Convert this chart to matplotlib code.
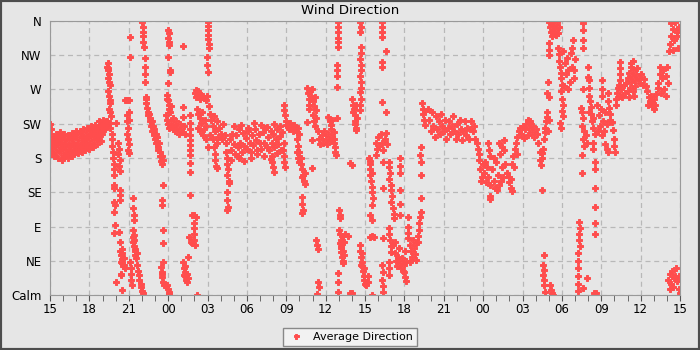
import matplotlib
matplotlib.use("Agg")
import matplotlib.pyplot as plt
from matplotlib.patches import Rectangle

# hours since 15:00 on day one, wind direction in degrees (0 = calm, 360 = N)
hours_a = [0.0,0.0,0.0,0.0,0.08,0.08,0.15,0.15,0.25,0.25,
           0.35,0.35,0.45,0.45,0.55,0.55,0.65,0.65,0.75,0.75,
           0.85,0.85,0.95,0.95,1.05,1.05,1.15,1.15,1.25,1.25,
           1.35,1.35,1.45,1.45,1.55,1.55,1.65,1.65,1.75,1.75,
           1.85,1.85,1.95,1.95,2.05,2.05,2.15,2.15,2.25,2.25,
           2.35,2.35,2.45,2.45,2.55,2.55,2.65,2.65,2.75,2.75,
           2.85,2.85,2.95,2.95,3.05,3.05,3.15,3.15,3.25,3.25,
           3.35,3.35,3.45,3.45,3.55,3.55,3.65,3.65,3.75,3.75,
           3.85,3.85,3.95,3.95,4.05,4.05,4.15,4.15,4.25,4.25,
           4.35,4.35,
           0.3,0.6,0.9,1.2,1.5,1.8,2.1,2.4,2.7,3.0,
           3.3,3.6,3.9,0.45,0.75,1.05,1.35,1.65,1.95,2.25,
           2.55,2.85,3.15,3.45,3.75,4.05,
           4.35,4.4,4.45,4.5,4.4,4.5,4.55,4.45,4.45,4.5,
           4.55,4.6,4.5,4.6,4.65,4.55,4.6,4.7,4.75,4.75,
           4.8,4.8,4.85,4.9,4.9,5.05,4.85,4.9,4.9,4.95,
           4.9,4.95,4.9,5.0,5.2,5.25,5.2,5.3,5.25,5.3,
           5.3,5.35,5.3,5.25,5.35,5.35,5.4,5.45,5.5,5.55,
           5.4,5.5,5.6,5.65,5.7,5.45,5.4,5.4,5.45,5.75,
           5.9,6.0,5.85,5.9,5.95,5.9,5.95,6.0,5.95,6.0,
           6.05,6.05,6.1,6.1,6.3,6.35,6.4,6.4,6.35,6.4,
           6.3,6.35,6.4,6.45,6.5,6.55,6.4,6.5,6.6,6.1,
           6.15,6.2,6.2,6.25,6.65,6.7,6.75,6.8,6.9,6.95,
           7.0,7.05,7.0,7.05,7.05,7.1,7.1,7.15,7.2,7.2,
           7.25,7.25,7.3,7.35,7.4,7.45,7.5,7.35,
           7.55,7.6,7.65,7.7,7.75,7.8,7.85,7.9,7.95,8.0,
           8.05,8.1,8.15,8.2,8.25,8.3,8.35,8.4,8.45,8.5,
           8.55,8.6,8.6,8.5,8.55,8.6,8.6,8.6,8.45,8.5,
           8.55,8.6,8.65,8.55,8.95,9.0,9.05,9.1,9.0,9.05,
           9.0,9.1,9.1,9.0,9.15,9.15,9.0,8.95,9.0,9.05,
           9.1,9.15,8.9,9.2,8.8,8.9,9.0,9.1,9.2,9.3,
           9.4,9.5,9.4,9.5,9.6,9.7,9.8,9.9,10.0,10.1,
           10.2,10.25,10.15,10.15,10.15,10.65,10.7,10.65,10.7,10.65,
           10.7,10.65,10.7,10.65,10.7,10.65,10.85,11.0,11.1,10.95,
           11.0,10.95,11.0,11.05,10.6,10.75,10.85,10.5,10.15,10.2,
           10.25,10.3,10.35,10.4,10.3,10.45,10.5,10.2,11.2,
           11.05,11.15,11.25,11.35,11.45,11.55,11.65,11.75,11.85,11.95,
           11.1,11.4,11.2,11.3,11.4,11.5,11.6,11.7,11.8,11.9,
           11.25,11.45,11.65,11.85]
dirs_a = [225,200,190,212,218,195,205,185,200,192,
          208,196,202,188,198,207,190,203,209,195,
          200,186,204,193,197,183,206,190,186,200,
          180,195,203,190,196,208,182,199,205,192,
          210,198,195,188,207,198,200,192,212,195,
          203,196,192,208,214,200,205,195,198,210,
          208,194,215,203,200,210,196,212,208,218,
          203,213,210,218,215,205,220,209,212,222,
          216,224,220,212,225,216,219,226,224,228,
          228,221,
          182,180,178,184,185,186,187,188,190,192,
          195,198,202,212,214,211,210,213,215,216,
          218,219,222,224,228,230,
          300,305,296,290,285,280,276,298,268,262,
          256,252,245,240,235,226,220,212,205,196,
          188,180,172,165,158,226,145,140,122,118,
          109,92,81,17,200,192,185,178,170,163,
          138,131,125,83,70,58,52,47,42,38,
          44,55,48,40,36,60,28,26,7,256,
          256,256,236,228,220,212,205,198,190,187,
          230,240,339,313,127,114,105,99,85,79,
          76,70,64,58,52,48,72,60,55,43,
          36,28,20,13,39,32,26,20,15,10,
          5,3,359,352,346,340,333,326,311,300,
          290,280,260,252,246,240,236,258,
          238,228,233,222,228,215,222,210,218,205,
          212,200,207,195,190,200,182,188,176,183,
          172,178,145,125,118,85,68,43,37,30,
          24,17,13,28,13,8,4,1,348,344,
          338,333,329,313,296,293,278,263,256,250,
          244,240,258,248,236,230,225,220,228,222,
          218,225,232,215,228,220,212,225,218,214,
          222,212,327,247,234,236,226,218,210,204,
          197,190,184,173,162,131,105,105,102,95,
          88,80,72,66,76,70,68,50,43,36,
          30,25,20,17,38,28,22,26,0,
          266,269,268,265,262,260,262,259,256,262,
          260,258,245,238,232,226,240,218,230,222,
          220,215,210,205]

hours_b = [12.0,12.0,12.05,12.0,12.05,12.0,12.1,12.1,11.95,11.95,
           12.05,12.1,12.2,12.3,12.4,12.5,12.6,12.7,12.8,12.9,
           13.0,13.1,13.2,13.3,13.4,12.2,12.45,12.75,12.5,12.55,
           12.6,12.65,12.7,13.4,13.45,13.5,13.55,13.5,13.6,13.6,
           13.5,13.5,13.55,13.5,13.7,13.8,13.9,14.0,14.1,14.2,
           14.3,14.4,14.5,14.6,14.7,14.8,14.9,15.0,15.1,15.2,
           15.3,15.4,15.5,15.6,15.7,15.8,15.9,16.0,14.4,16.1,
           16.2,16.3,16.4,16.5,16.6,16.7,16.8,16.9,17.0,17.1,
           17.2,17.3,17.4,17.5,17.6,17.7,17.8,16.9,16.95,17.0,
           13.8,14.3,14.8,15.3,15.8,16.3,16.8,17.3,
           14.05,14.55,15.05,15.55,16.05,16.55,17.05,17.55,
           17.05,17.8,17.85,17.9,17.95,18.0,17.75,17.8,17.85,17.9,
           18.1,18.2,18.3,18.4,18.5,18.6,18.7,18.8,18.9,19.0,
           18.85,18.9,18.85,18.9,18.95,19.0,19.1,19.15,19.2,19.3,
           19.35,19.4,19.2,19.45,19.2,19.2,19.25,19.2,19.6,19.65,
           19.7,19.75,19.8,19.9,20.0,20.1,20.2,20.25,19.7,19.95,
           19.6,20.0,20.1,20.2,20.3,19.95,19.95,20.4,20.5,20.6,
           20.7,20.8,20.9,21.0,21.1,21.2,21.3,21.4,21.5,21.6,
           21.2,21.3,21.4,21.5,21.6,21.65,21.7,21.75,21.8,20.3,
           20.35,20.4,20.45,20.5,20.35,21.95,21.95,21.95,21.95,21.95,
           21.95,21.85,21.9,21.85,21.9,21.9,22.0,22.1,22.1,22.0,
           22.1,22.3,22.5,22.7,22.2,22.4,22.1,22.15,22.2,22.25,
           22.3,22.35,22.2,22.3,22.4,21.95,21.95,21.95,22.85,23.0,
           22.85,23.0,23.0,23.1,23.15,23.2,23.25,23.3,23.35,23.05,
           23.2,23.3,23.4,23.65,23.7,23.65,23.7,23.7,23.65,23.7,
           23.7,23.65,23.7,23.7,23.65,23.7,23.65,23.65,23.6,23.65,
           23.7,23.75,23.8,23.85,23.9,23.95,23.7,23.8,23.9]
dirs_b = [194,359,354,348,342,336,330,325,313,302,
          293,248,238,230,222,235,215,228,208,220,
          212,205,225,210,200,210,205,200,195,185,
          178,170,167,188,180,172,165,158,150,147,
          135,125,115,112,205,190,212,198,185,210,
          195,218,200,188,213,196,206,192,215,200,
          188,210,197,218,203,190,212,200,180,192,
          214,200,220,195,208,190,215,200,212,194,
          205,218,198,209,190,214,200,182,175,168,
          178,182,176,180,185,183,179,186,
          222,224,220,226,223,221,225,222,
          162,250,243,236,229,224,190,182,175,168,
          222,218,226,220,215,224,219,214,220,212,
          205,196,188,180,175,188,180,172,165,158,
          150,146,155,160,129,120,112,108,272,265,
          258,250,268,262,255,248,260,243,245,270,
          227,236,228,222,232,204,167,215,205,198,
          210,200,215,205,198,212,202,218,208,200,
          234,228,224,230,214,205,195,188,184,72,
          66,60,17,10,1,359,352,345,338,332,
          326,302,295,288,273,232,112,105,101,85,
          80,78,80,78,72,70,68,62,56,50,
          45,42,64,58,52,29,17,4,3,3,
          173,171,258,250,244,236,228,220,217,240,
          225,250,232,359,352,345,326,318,310,302,
          295,288,280,272,267,258,250,243,66,58,
          50,44,38,32,25,20,40,55,35]

hours_c = [24.0,24.05,24.2,24.25,24.5,24.3,24.35,24.4,24.35,24.45,
           24.5,24.55,24.6,24.4,24.5,24.4,24.5,24.55,24.4,24.55,
           24.7,24.8,24.9,25.0,25.1,25.2,25.3,25.4,25.5,25.6,
           25.65,24.8,25.35,25.35,25.3,25.3,25.3,25.3,25.3,25.3,
           25.6,25.3,25.6,25.35,25.3,25.35,25.3,25.35,25.4,25.8,
           25.85,25.9,25.85,25.95,26.0,26.05,26.0,26.1,26.2,26.2,
           25.8,25.85,25.9,25.95,26.0,25.8,25.8,25.8,26.15,26.25,
           26.35,26.45,26.55,26.65,26.75,26.85,26.95,27.05,27.15,26.3,
           26.6,26.9,26.65,26.65,26.65,26.7,26.65,26.7,27.0,27.05,
           27.1,27.3,27.3,27.25,27.3,27.4,27.5,27.6,27.7,27.8,
           27.9,27.45,27.65,27.85,28.0,28.05,28.1,28.15,28.2,28.25,
           28.3,28.2,28.25,28.3,28.3,28.35,28.4,28.45,28.5,28.55,
           28.6,28.8,28.9,29.0,29.1,29.2,29.3,29.4,29.5,29.6,
           29.7,29.8,29.9,30.0,30.1,30.2,30.3,30.4,30.5,30.6,
           30.7,30.8,30.9,31.0,31.1,31.2,31.3,31.4,31.5,31.6,
           31.7,31.8,31.9,32.0,32.1,32.2,32.3,32.4,32.5,32.6,
           32.7,32.7,32.8,32.9,33.0,33.1,33.2,33.3,33.4,33.5,
           32.85,33.15,33.5,33.5,33.4,33.45,33.5,33.7,33.8,33.9,
           34.0,34.1,34.2,34.3,34.4,34.5,34.6,34.7,34.8,33.85,
           34.05,34.35,34.2,34.4,34.6,34.95,35.0,35.1,35.2,35.1,
           35.2,35.3,35.4,35.5,35.6,35.7,35.8,35.35,35.55,35.9]
dirs_c = [15,13,25,17,0,180,172,165,158,150,
          142,135,128,176,160,105,99,118,76,77,
          76,200,192,208,196,212,200,190,205,213,
          198,184,175,141,359,352,345,339,306,300,
          320,253,240,75,39,30,20,12,4,175,
          168,160,152,145,138,130,122,114,106,101,
          88,80,72,64,56,43,35,26,66,55,
          45,38,50,42,35,48,40,58,45,70,
          62,32,180,170,160,138,120,105,30,24,
          18,102,90,82,75,66,58,50,62,54,
          46,44,72,68,70,78,86,94,102,109,
          194,184,175,158,127,252,245,238,230,224,
          242,245,230,215,240,222,208,235,218,228,
          212,238,222,215,230,205,220,228,212,222,
          235,215,205,225,212,230,218,203,215,228,
          210,220,205,218,228,215,222,205,200,192,
          185,178,165,155,172,160,148,168,155,145,
          150,175,130,126,200,190,182,165,150,140,
          175,158,145,185,168,155,190,172,160,180,
          138,150,200,195,204,155,148,140,136,152,
          172,182,192,200,208,215,219,168,185,212]

hours_d = [36.0,36.1,36.2,36.3,36.4,36.5,36.6,36.7,36.8,36.9,
           37.0,36.4,36.6,37.1,37.2,37.3,37.35,37.4,37.5,37.55,
           37.6,37.7,37.45,37.45,37.75,37.8,37.85,37.9,38.0,37.95,
           37.95,37.9,38.0,38.05,38.05,38.05,38.0,38.1,38.2,38.3,
           38.4,38.5,38.6,38.7,38.8,38.25,38.55,38.15,37.6,37.55,
           37.6,37.55,37.6,37.65,37.7,38.1,38.15,38.25,38.35,38.7,
           38.75,38.8,38.85,38.9,38.95,39.0,38.95,39.0,39.05,39.0,
           39.05,39.1,39.2,39.3,39.4,39.5,39.6,39.7,39.8,39.9,
           40.0,39.15,39.45,39.75,39.95,38.85,38.9,39.85,40.6,40.6,
           40.6,40.6,40.6,41.0,40.3,40.35,40.3,40.3,40.35,40.2,
           40.2,40.2,40.2,40.2,40.2,40.6,40.95,40.45,40.55,40.6,
           40.5,40.7,40.6,40.7,40.8,40.9,40.55,40.55,41.0,41.1,
           41.05,41.1,41.15,41.2,41.1,41.2,41.3,41.4,41.5,41.35,
           41.4,41.4,41.5,41.55,41.5,41.5,41.5,41.55,41.7,41.8,
           41.9,42.0,42.1,42.2,42.3,42.4,41.75,42.05,42.05,42.05,
           42.05,42.5,42.55,42.6,42.65,42.7,42.8,42.9,42.95,43.0,
           43.05,42.3,42.4,42.5,43.1,43.15,43.2,43.3,43.35,43.45,
           43.45,43.45,43.45,43.4,43.5,43.6,43.7,43.8,43.9,44.0,
           44.1,44.2,44.3,44.4,44.5,44.6,44.05,44.15,44.25,44.35,
           44.45,44.55,44.65,44.75,44.85,44.95,45.05,45.15,45.25,45.4,
           44.3,44.4,45.5,45.6,45.7,45.8,45.9,46.0,46.1,46.2,
           46.3,45.55,45.85,46.05,46.35,46.45,46.5,46.6,46.7,46.8,
           46.9,47.0,47.1,46.55,46.95,47.15,47.25,47.35,47.45,47.55,
           47.65,47.75,47.85,47.95,47.5,47.8,47.3,47.1,47.2,47.3,
           47.4,47.5,47.6,47.7,47.8,47.9,48.0,47.25,47.55,47.95,
           41.45,41.6]
dirs_d = [222,206,218,225,210,220,228,214,222,208,
          218,230,226,212,200,188,178,171,180,192,
          205,214,186,138,220,228,234,240,230,215,
          280,265,260,331,322,315,359,352,358,346,
          355,350,359,344,352,340,342,345,52,40,
          33,26,20,13,4,13,7,3,0,325,
          316,308,300,292,285,276,268,258,250,242,
          235,320,305,290,312,295,280,318,300,285,
          310,275,270,325,295,226,220,335,357,348,
          335,325,271,299,96,88,80,72,64,55,
          45,35,25,14,5,9,22,246,240,232,
          222,215,205,196,210,200,184,160,287,282,
          272,262,255,247,240,238,228,220,212,232,
          200,192,175,166,140,115,95,80,250,236,
          222,245,228,215,240,225,215,210,282,270,
          262,265,255,246,238,230,227,217,205,196,
          188,198,192,188,250,258,266,272,276,306,
          298,290,283,262,270,260,276,265,278,268,
          260,272,280,268,262,274,285,292,300,288,
          295,282,290,298,285,278,290,276,284,274,
          305,308,268,260,255,262,252,258,250,264,
          272,250,248,244,278,290,300,285,296,270,
          288,300,278,265,262,320,330,340,350,335,
          359,345,325,352,322,340,357,20,28,15,
          32,10,25,35,18,8,3,8,22,25,
          2,2]

x_labels = ["15", "18", "21", "00", "03", "06", "09", "12", "15",
            "18", "21", "00", "03", "06", "09", "12", "15"]
y_labels = ["Calm", "NE", "E", "SE", "S", "SW", "W", "NW", "N"]

bg = "#e6e6e6"
red = "#ff4d4d"

fig = plt.figure(figsize=(7, 3.5), dpi=100, facecolor=bg)
ax = fig.add_axes([50 / 700, 55 / 350, 630 / 700, 274 / 350], facecolor=bg)

first = True
for hrs, drs in [(hours_a, dirs_a), (hours_b, dirs_b), (hours_c, dirs_c), (hours_d, dirs_d)]:
    ax.plot(hrs, drs, linestyle="none", marker="P", markersize=4.5, color=red,
            markeredgewidth=0.7, markeredgecolor=red,
            label="Average Direction" if first else None)
    first = False

ax.set_xlim(0, 48)
ax.set_ylim(0, 360)
ax.set_xticks(range(0, 49, 3))
ax.set_xticklabels(x_labels)
ax.set_xticks(range(0, 49), minor=True)
ax.set_yticks(range(0, 361, 45))
ax.set_yticklabels(y_labels)

ax.grid(True, which="major", color="#b8b8b8", linestyle=(0, (4, 3)), linewidth=0.9)
ax.set_axisbelow(True)
for s in ax.spines.values():
    s.set_color("#999999")
ax.tick_params(axis="x", which="both", direction="out", length=4, color="#555555",
               labelsize=8.5, pad=2)
ax.tick_params(axis="y", length=0, labelsize=8.5, pad=6)

fig.text(0.5, 1 - 11 / 350, "Wind Direction", ha="center", va="center", fontsize=9.5)

leg = fig.legend(loc="center", bbox_to_anchor=(0.5, 13 / 350), frameon=True,
                 fancybox=False, edgecolor="#888888", facecolor="#f2f2f2",
                 framealpha=1, fontsize=8, markerscale=0.8, handlelength=1.5,
                 borderpad=0.4)

fig.patches.append(Rectangle((0, 0), 1, 1, transform=fig.transFigure, fill=False,
                             edgecolor="#4d4d4d", linewidth=3))

fig.savefig("out.png", dpi=100, facecolor=bg)
